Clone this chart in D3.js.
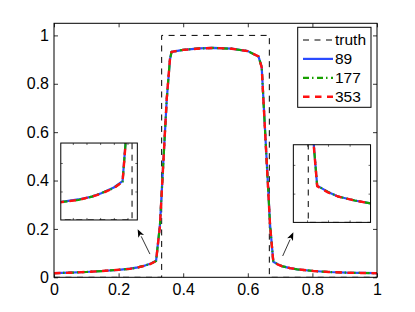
<!DOCTYPE html>
<html>
<head>
<meta charset="utf-8">
<script src="https://cdn.jsdelivr.net/npm/d3@7"></script>
<style>
  body { margin: 0; background: #fff; }
  svg { display: block; }
  text { font-family: "Liberation Sans", Arial, sans-serif; }
</style>
</head>
<body>
<div id="chart"></div>
<script>
// exact solution (square pulse)
const truthX = [0, 1 / 3, 1 / 3, 2 / 3, 2 / 3, 1];
const truthY = [0, 0, 1, 1, 0, 0];

// numerical solutions
const xs = [0, 0.05, 0.1, 0.15, 0.2, 0.235, 0.26, 0.277, 0.3, 0.316, 0.328, 0.349, 0.359, 0.364,
  0.4, 0.45, 0.493, 0.55, 0.6, 0.633, 0.643, 0.669, 0.679, 0.694, 0.708, 0.731, 0.753, 0.803,
  0.85, 0.906, 0.95, 1];
const y89 = [0.017, 0.019, 0.022, 0.026, 0.031, 0.036, 0.041, 0.047, 0.057, 0.068, 0.217, 0.734, 0.9, 0.932,
  0.94, 0.946, 0.948, 0.945, 0.935, 0.913, 0.87, 0.217, 0.064, 0.053, 0.045, 0.038, 0.033, 0.026,
  0.022, 0.019, 0.018, 0.017];
const y177 = [0.017, 0.019, 0.022, 0.026, 0.031, 0.035, 0.041, 0.047, 0.056, 0.067, 0.214, 0.736, 0.901, 0.932,
  0.94, 0.946, 0.948, 0.945, 0.935, 0.913, 0.869, 0.214, 0.064, 0.053, 0.045, 0.038, 0.033, 0.026,
  0.022, 0.019, 0.018, 0.017];
const y353 = [0.017, 0.019, 0.022, 0.026, 0.031, 0.035, 0.041, 0.046, 0.056, 0.067, 0.212, 0.738, 0.902, 0.932,
  0.94, 0.946, 0.948, 0.945, 0.935, 0.913, 0.868, 0.212, 0.063, 0.052, 0.045, 0.038, 0.033, 0.026,
  0.022, 0.019, 0.018, 0.017];

const xTicks = [0, 0.2, 0.4, 0.6, 0.8, 1];
const yTicks = [0, 0.2, 0.4, 0.6, 0.8, 1];
const legendLabels = ["truth", "89", "177", "353"];

const width = 415, height = 312;
const margin = { top: 23.3, right: 38, bottom: 34.7, left: 54 };
const w = width - margin.left - margin.right;
const h = height - margin.top - margin.bottom;

const svg = d3.select("#chart").append("svg")
  .attr("width", width)
  .attr("height", height);

const g = svg.append("g").attr("transform", `translate(${margin.left},${margin.top})`);

const x = d3.scaleLinear().domain([0, 1]).range([0, w]);
const y = d3.scaleLinear().domain([0, 1.05]).range([h, 0]);

const truthStyle = { color: "#000", dash: "6,5.5", sw: 1 };
const series = [
  { label: "89", ys: y89, color: "#2a4bff", dash: null, sw: 2.2 },
  { label: "177", ys: y177, color: "#18a000", dash: "6,3,1.5,3.5", sw: 2.2 },
  { label: "353", ys: y353, color: "#ff1010", dash: "6.5,5.5", sw: 2.4 },
];
const truth = truthX.map((d, i) => [d, truthY[i]]);

function drawCurves(sel, sx, sy) {
  const line = d3.line().x((d) => sx(d[0])).y((d) => sy(d[1]));
  sel.append("path")
    .datum(truth)
    .attr("fill", "none")
    .attr("stroke", truthStyle.color)
    .attr("stroke-width", truthStyle.sw)
    .attr("stroke-dasharray", truthStyle.dash)
    .attr("d", line);
  series.forEach((s) => {
    sel.append("path")
      .datum(xs.map((d, i) => [d, s.ys[i]]))
      .attr("fill", "none")
      .attr("stroke", s.color)
      .attr("stroke-width", s.sw)
      .attr("stroke-linejoin", "round")
      .attr("stroke-dasharray", s.dash)
      .attr("d", line);
  });
}

// axes, matlab style: ticks inside on all four sides
const tickStyle = (a) => a.selectAll("text").style("font-size", "16px").attr("fill", "#000");

g.append("g")
  .attr("transform", `translate(0,${h})`)
  .call(d3.axisBottom(x).tickValues(xTicks).tickFormat(d3.format("~g")).tickSizeInner(-4).tickSizeOuter(0).tickPadding(6))
  .call(tickStyle);
g.append("g")
  .call(d3.axisTop(x).tickValues(xTicks).tickFormat("").tickSizeInner(-4).tickSizeOuter(0));
g.append("g")
  .call(d3.axisLeft(y).tickValues(yTicks).tickFormat(d3.format("~g")).tickSizeInner(-4).tickSizeOuter(0).tickPadding(5))
  .call(tickStyle);
g.append("g")
  .attr("transform", `translate(${w},0)`)
  .call(d3.axisRight(y).tickValues(yTicks).tickFormat("").tickSizeInner(-4).tickSizeOuter(0));
g.selectAll(".domain").remove();
g.selectAll(".tick line").attr("stroke", "#000").attr("stroke-width", 0.8);

g.append("clipPath").attr("id", "clipMain")
  .append("rect").attr("width", w).attr("height", h);
drawCurves(g.append("g").attr("clip-path", "url(#clipMain)"), x, y);

g.append("rect")
  .attr("width", w).attr("height", h)
  .attr("fill", "none").attr("stroke", "#000").attr("stroke-width", 1);

// zoomed insets
const insets = [
  { id: "inL", box: [0.021, 0.258, 0.555, 0.237], xd: [0.203, 0.343], yd: [0, 0.135],
    xt: [0.225, 0.25, 0.275, 0.3, 0.325], yt: [0.05, 0.1] },
  { id: "inR", box: [0.741, 0.98, 0.548, 0.227], xd: [0.646, 0.753], yd: [0, 0.135],
    xt: [0.665, 0.694, 0.724], yt: [0.05, 0.1] },
];

insets.forEach((ins) => {
  const x0 = x(ins.box[0]), x1 = x(ins.box[1]);
  const y0 = y(ins.box[2]), y1 = y(ins.box[3]);
  const ig = g.append("g").attr("transform", `translate(${x0},${y0})`);
  const iw = x1 - x0, ih = y1 - y0;
  const sx = d3.scaleLinear().domain(ins.xd).range([0, iw]);
  const sy = d3.scaleLinear().domain(ins.yd).range([ih, 0]);
  ig.append("rect").attr("width", iw).attr("height", ih).attr("fill", "#fff");
  ig.append("clipPath").attr("id", ins.id)
    .append("rect").attr("width", iw).attr("height", ih);
  drawCurves(ig.append("g").attr("clip-path", `url(#${ins.id})`), sx, sy);
  ig.append("g").attr("transform", `translate(0,${ih})`)
    .call(d3.axisBottom(sx).tickValues(ins.xt).tickFormat("").tickSizeInner(-2).tickSizeOuter(0));
  ig.append("g")
    .call(d3.axisTop(sx).tickValues(ins.xt).tickFormat("").tickSizeInner(-2).tickSizeOuter(0));
  ig.append("g")
    .call(d3.axisLeft(sy).tickValues(ins.yt).tickFormat("").tickSizeInner(-2).tickSizeOuter(0));
  ig.append("g").attr("transform", `translate(${iw},0)`)
    .call(d3.axisRight(sy).tickValues(ins.yt).tickFormat("").tickSizeInner(-2).tickSizeOuter(0));
  ig.selectAll(".domain").remove();
  ig.selectAll(".tick line").attr("stroke", "#000").attr("stroke-width", 0.6);
  ig.append("rect").attr("width", iw).attr("height", ih)
    .attr("fill", "none").attr("stroke", "#000").attr("stroke-width", 1);
});

// arrows pointing to the insets
const arrows = [
  [[0.297, 0.096], [0.259, 0.199]],
  [[0.708, 0.088], [0.741, 0.186]],
];
arrows.forEach(([a, b]) => {
  const ax = x(a[0]), ay = y(a[1]), bx = x(b[0]), by = y(b[1]);
  const ang = Math.atan2(by - ay, bx - ax);
  const len = 8, half = 3.2;
  const hx = bx - len * Math.cos(ang), hy = by - len * Math.sin(ang);
  g.append("line")
    .attr("x1", ax).attr("y1", ay).attr("x2", hx).attr("y2", hy)
    .attr("stroke", "#000").attr("stroke-width", 0.8);
  const px = -Math.sin(ang) * half, py = Math.cos(ang) * half;
  g.append("path")
    .attr("d", `M${bx},${by}L${hx + px},${hy + py}L${hx + 2 * Math.cos(ang)},${hy + 2 * Math.sin(ang)}L${hx - px},${hy - py}Z`)
    .attr("fill", "#000");
});

// legend
const legend = g.append("g").attr("transform", `translate(${w - 79.3},${4})`);
legend.append("rect")
  .attr("width", 73.3).attr("height", 80)
  .attr("fill", "#fff").attr("stroke", "#000").attr("stroke-width", 1);
const legendStyles = [truthStyle].concat(series);
legendLabels.forEach((lab, i) => {
  const ly = 12.7 + i * 18.9;
  legend.append("line")
    .attr("x1", 5.3).attr("x2", 35.3).attr("y1", ly).attr("y2", ly)
    .attr("stroke", legendStyles[i].color)
    .attr("stroke-width", legendStyles[i].sw)
    .attr("stroke-dasharray", legendStyles[i].dash);
  legend.append("text")
    .attr("x", 37.3).attr("y", ly)
    .attr("dy", "0.35em")
    .style("font-size", "15.5px")
    .text(lab);
});
</script>
</body>
</html>
